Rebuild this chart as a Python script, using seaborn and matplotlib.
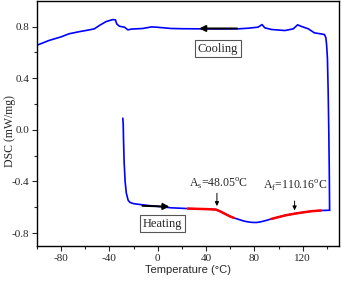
import numpy as np
import pandas as pd
import seaborn as sns
import matplotlib.pyplot as plt

# heating run
heat_T = [-28.9, -28.6, -28.3, -27.8, -27.0, -26.0, -24.5, -23.0, -20, -15, -8, -1, 5, 11,
          18, 25, 32, 40, 45, 48.3, 52, 55.3, 60, 63, 66.4, 71, 74.7, 78, 81.7, 85, 88.6,
          94.2, 100, 106, 113.6, 120, 127.5, 135, 142.3]
heat_dsc = [0.09, 0.05, -0.08, -0.25, -0.40, -0.49, -0.545, -0.562, -0.572, -0.578, -0.586,
            -0.592, -0.598, -0.604, -0.607, -0.61, -0.612, -0.614, -0.616, -0.618, -0.633,
            -0.649, -0.671, -0.682, -0.692, -0.706, -0.713, -0.717, -0.718, -0.713, -0.705,
            -0.69, -0.676, -0.662, -0.649, -0.64, -0.63, -0.625, -0.623]

# cooling run
cool_T = [142.3, 142.0, 141.6, 141.1, 140.5, 139.8, 139.2, 138, 134.4, 129.7, 124.7, 119.2,
          115.8, 112.2, 105.3, 94.2, 88.6, 86.4, 83, 75, 66.4, 50, 35.8, 20, 10.8, -1.1,
          -5.3, -12.2, -17.8, -22, -24.7, -27.5, -31.7, -33.9, -35, -37.2, -42.8, -48.3,
          -52.5, -56.7, -65, -73.3, -80, -90, -100]
cool_dsc = [-0.623, -0.3, 0.0, 0.3, 0.55, 0.66, 0.713, 0.738, 0.744, 0.751, 0.782, 0.8,
            0.813, 0.782, 0.769, 0.777, 0.79, 0.815, 0.795, 0.787, 0.782, 0.781, 0.782,
            0.783, 0.785, 0.795, 0.797, 0.785, 0.782, 0.78, 0.774, 0.795, 0.802, 0.82,
            0.851, 0.854, 0.838, 0.808, 0.782, 0.774, 0.76, 0.744, 0.72, 0.692, 0.655]

# temperature ranges highlighted in red
red_ranges = [(25, 63), (94.2, 135)]

heat = pd.DataFrame({'T': heat_T, 'DSC': heat_dsc})
cool = pd.DataFrame({'T': cool_T, 'DSC': cool_dsc})

sns.set_style('ticks')
plt.rcParams['font.family'] = ['Liberation Serif', 'DejaVu Serif']
plt.rcParams['mathtext.fontset'] = 'custom'
plt.rcParams['mathtext.rm'] = 'Liberation Serif'
plt.rcParams['axes.unicode_minus'] = False

fig = plt.figure(figsize=(3.42, 2.81), dpi=100)
ax = fig.add_axes([0.108, 0.1245, 0.883, 0.873])

sns.lineplot(data=cool, x='T', y='DSC', sort=False, estimator=None, color='#0000ff', lw=1.2, ax=ax)
sns.lineplot(data=heat, x='T', y='DSC', sort=False, estimator=None, color='#0000ff', lw=1.2, ax=ax)
for lo, hi in red_ranges:
    seg = heat[(heat['T'] >= lo) & (heat['T'] <= hi)]
    sns.lineplot(data=seg, x='T', y='DSC', sort=False, estimator=None, color='#ff0000', lw=1.8, ax=ax)

# direction arrows
arr = dict(arrowstyle='-|>', color='black', lw=1.4, mutation_scale=9)
ax.annotate('', xy=(32, 0.785), xytext=(68, 0.785), arrowprops=arr)
ax.annotate('', xy=(12, -0.596), xytext=(-15, -0.588), arrowprops=arr)

# transition temperatures
thin = dict(arrowstyle='-|>', color='black', lw=0.7, mutation_scale=6)
ax.annotate('', xy=(49, -0.612), xytext=(49, -0.47), arrowprops=thin)
ax.annotate('', xy=(113.3, -0.645), xytext=(113.3, -0.53), arrowprops=thin)
ax.text(50, -0.415, 'A$_\\mathrm{s}$=48.05$^\\mathrm{o}$C', ha='center', va='center', fontsize=8.5)
ax.text(114, -0.43, 'A$_\\mathrm{f}$=110.16$^\\mathrm{o}$C', ha='center', va='center', fontsize=8.5)

box = dict(boxstyle='square,pad=0.2', fc='white', ec='#555555', lw=0.8)
ax.text(50, 0.627, 'Cooling', ha='center', va='center', fontsize=9, bbox=box)
ax.text(4, -0.727, 'Heating', ha='center', va='center', fontsize=9, bbox=box)

ax.set_xlim(-100, 150)
ax.set_ylim(-0.9, 1.0)
ax.set_xticks([-80, -40, 0, 40, 80, 120])
ax.set_xticks(np.arange(-100, 151, 20), minor=True)
ax.set_yticks([-0.8, -0.4, 0.0, 0.4, 0.8])
ax.set_yticks(np.arange(-0.8, 0.81, 0.2), minor=True)
ax.set_yticklabels(['-0.8', '-0.4', '0.0', '0.4', '0.8'])
ax.tick_params(which='major', direction='out', length=3.5, width=0.8, labelsize=8, pad=2)
ax.tick_params(which='minor', direction='out', length=2, width=0.8)
for s in ax.spines.values():
    s.set_visible(True)
    s.set_linewidth(1.0)
    s.set_color('black')

ax.set_xlabel('Temperature (°C)', fontsize=8, family='Liberation Sans', labelpad=2)
ax.set_ylabel('DSC (mW/mg)', fontsize=8.5)
ax.yaxis.set_label_coords(-0.07, 0.47)

fig.savefig('out.png', dpi=100)
